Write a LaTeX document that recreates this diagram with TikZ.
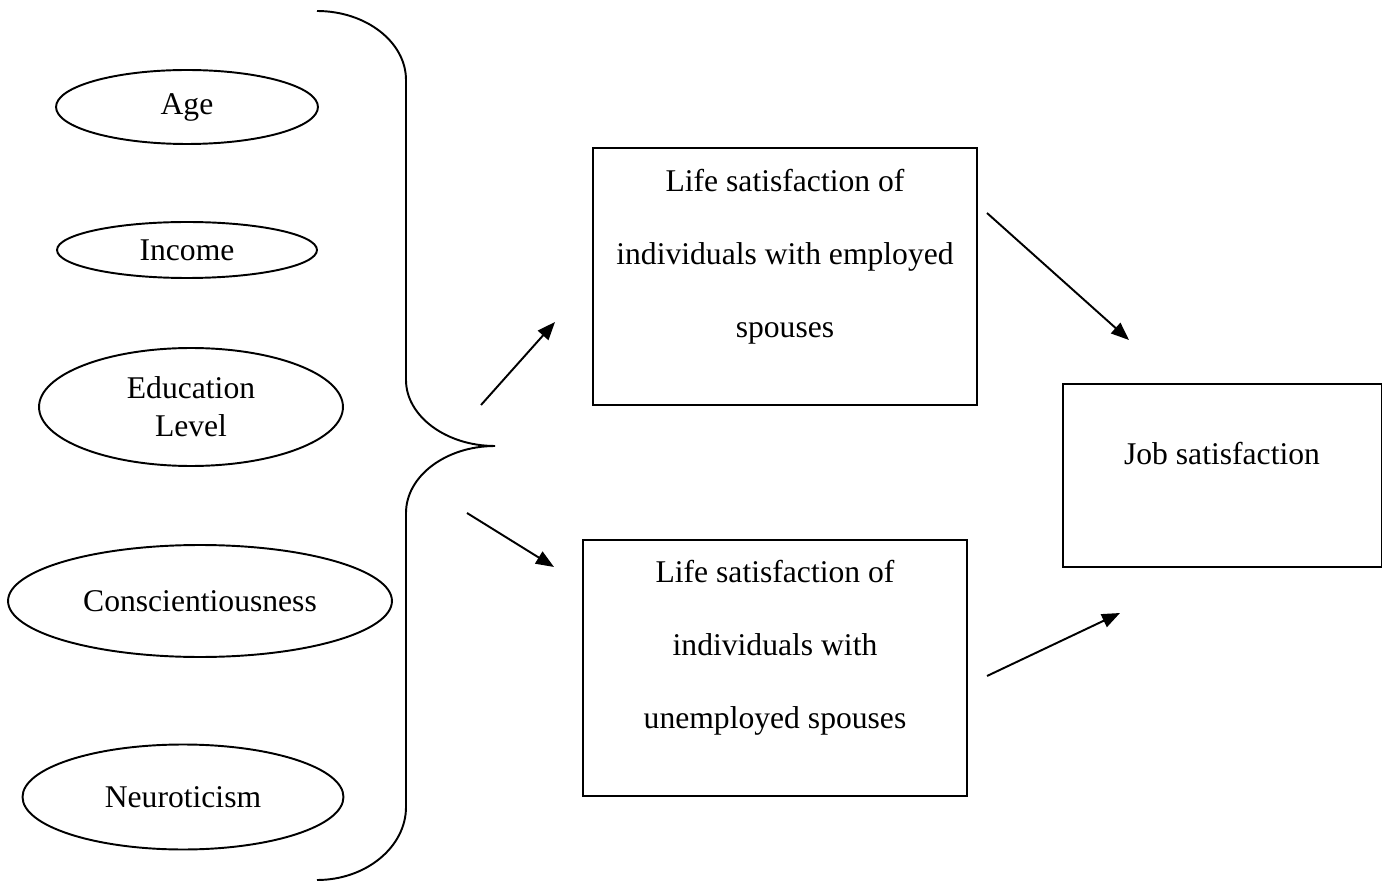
\documentclass[tikz,border=0pt]{standalone}
\usepackage{fontspec}
\setmainfont{Liberation Serif}
\usetikzlibrary{arrows.meta, positioning, shapes.geometric}

\begin{document}
\begin{tikzpicture}[x=0.02cm, y=-0.02cm,
  line width=1.1pt,
  oval/.style={draw, ellipse, inner sep=0pt, align=center,
    font=\fontsize{18}{21.6}\selectfont},
  frame/.style={draw, rectangle, inner sep=0pt},
  boxtext/.style={inner sep=0pt, align=center,
    font=\fontsize{18}{41.5}\selectfont},
  link/.style={-{Triangle[length=0.36cm, width=0.28cm]}}]
  \useasboundingbox (0,0) rectangle (1382,881);

  % predictors
  \node[oval, minimum width=5.24cm, minimum height=1.48cm] (age) at (187,107) {Age};
  \node[oval, minimum width=5.20cm, minimum height=1.12cm] (income) at (187,250) {Income};
  \node[oval, minimum width=6.08cm, minimum height=2.36cm] (edu) at (191,407) {Education\\Level};
  \node[oval, minimum width=7.68cm, minimum height=2.24cm] (consc) at (200,601) {Conscientiousness};
  \node[oval, minimum width=6.42cm, minimum height=2.10cm] (neuro) at (183,797) {Neuroticism};

  % curly brace
  \coordinate (bracetop) at (317,11);
  \coordinate (bracetip) at (495,446);
  \coordinate (bracebot) at (317,880);
  \draw (bracetop) .. controls (366,11) and (406,42) .. (406,80)
    -- (406,380) .. controls (406,416) and (446,446) .. (bracetip)
    .. controls (446,446) and (406,476) .. (406,513)
    -- (406,807) .. controls (406,847) and (366,880) .. (bracebot);

  % outcomes
  \node[frame, minimum width=7.68cm, minimum height=5.14cm] (emp) at (785,276.5) {};
  \node[boxtext, below=0.42cm of emp.north] (emptext)
    {Life satisfaction of\\individuals with employed\\spouses};
  \node[frame, minimum width=7.68cm, minimum height=5.12cm] (unemp) at (775,668) {};
  \node[boxtext, below=0.41cm of unemp.north] (unemptext)
    {Life satisfaction of\\individuals with\\unemployed spouses};
  \node[frame, minimum width=6.38cm, minimum height=3.66cm] (job) at (1222,475.5) {};
  \node[boxtext, below=1.16cm of job.north] (jobtext) {Job satisfaction};

  % arrows
  \coordinate (upfrom) at (481,405);
  \coordinate (upto) at (555,322);
  \coordinate (downfrom) at (467,513);
  \coordinate (downto) at (554,567);
  \coordinate (empfrom) at (987,213);
  \coordinate (empto) at (1129,340);
  \coordinate (unempfrom) at (987,676);
  \coordinate (unempto) at (1120,613);
  \draw[link] (upfrom) -- (upto);
  \draw[link] (downfrom) -- (downto);
  \draw[link] (empfrom) -- (empto);
  \draw[link] (unempfrom) -- (unempto);
\end{tikzpicture}
\end{document}
